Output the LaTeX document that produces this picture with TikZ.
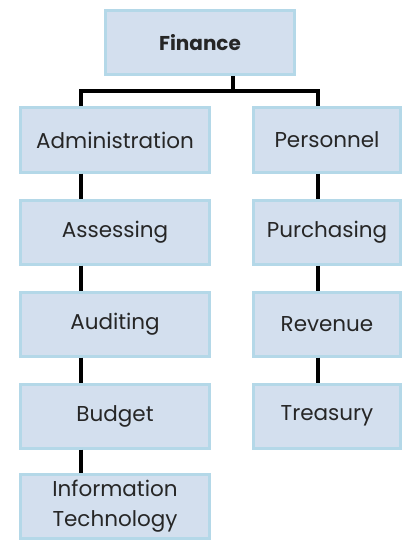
\documentclass[tikz,border=0pt]{standalone}
\usepackage{fontspec}
\setmainfont{Poppins}
\definecolor{boxfill}{HTML}{D3DFEE}
\definecolor{boxline}{HTML}{B4D8E8}
\definecolor{txt}{HTML}{262626}
\begin{document}
\begin{tikzpicture}[x=1pt,y=-1pt,
  unit/.style={draw=boxline,line width=3pt,fill=boxfill,minimum width=189pt,minimum height=64pt,align=center,font=\fontsize{21.5}{30}\selectfont,text=txt,inner sep=0pt,
    append after command={\pgfextra{\draw[white,line width=2pt] ([xshift=-3pt,yshift=-3pt]\tikzlastnode.north east) -- ([xshift=-3pt,yshift=3pt]\tikzlastnode.south east);}}},
  unitr/.style={unit,minimum width=147pt},
  link/.style={line width=4pt,black}]
\useasboundingbox (0,0) rectangle (404,540);
\node[unit,font=\bfseries\fontsize{20}{24}\selectfont] (fin) at (200,43) {Finance};
\node[unit] (adm) at (115,140) {Administration};
\node[unit] (ass) at (115,232) {Assessing};
\node[unit] (aud) at (115,324) {Auditing};
\node[unit] (bud) at (115,416) {Budget};
\node[unit] (it) at (115,506) {Information\\Technology};
\node[unitr] (per) at (327,140) {Personnel};
\node[unitr] (pur) at (327,232) {Purchasing};
\node[unitr] (rev) at (327,324) {Revenue};
\node[unitr] (tre) at (327,416) {Treasury};
\coordinate (bus) at (233,91);
\draw[link] (fin.south -| bus) |- (81,91) -- (adm.north -| 81,0);
\draw[link] (bus) -| (per.north -| 318,0);
\foreach \a/\b in {adm/ass,ass/aud,aud/bud,bud/it}{
  \draw[link] (\a.south -| 81,0) -- (\b.north -| 81,0);}
\foreach \a/\b in {per/pur,pur/rev,rev/tre}{
  \draw[link] (\a.south -| 318,0) -- (\b.north -| 318,0);}
\end{tikzpicture}
\end{document}
